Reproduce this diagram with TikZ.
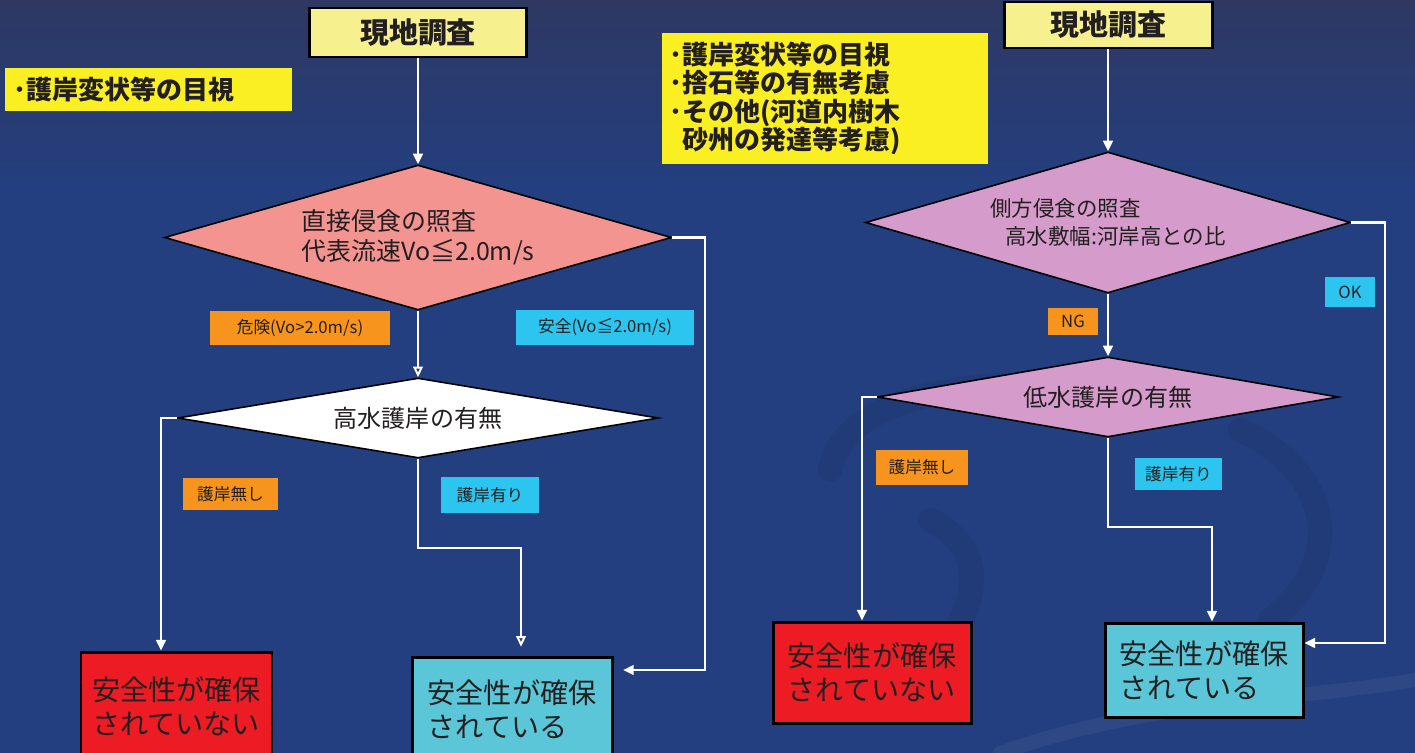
\documentclass[tikz,border=0pt]{standalone}
\usepackage{fontspec}
\setmainfont{Noto Sans CJK JP}
\usetikzlibrary{shapes.geometric,arrows.meta}
\definecolor{bgA}{HTML}{2E3862}
\definecolor{bgB}{HTML}{233F80}
\definecolor{topyellow}{HTML}{F6F08E}
\definecolor{noteyellow}{HTML}{FAEF22}
\definecolor{pinkd}{HTML}{F39491}
\definecolor{purpled}{HTML}{D59BCB}
\definecolor{orangel}{HTML}{F7941D}
\definecolor{cyanl}{HTML}{2BC5EF}
\definecolor{redr}{HTML}{ED1C24}
\definecolor{tealr}{HTML}{5BC6D7}
\definecolor{txt}{HTML}{231F20}
\def\pxu{0.02cm}
\tikzset{
  topbox/.style={draw=black, line width=1.7pt, fill=topyellow, inner sep=0pt, text=txt,
    font=\fontsize{16.5}{20}\selectfont\bfseries},
  note/.style={fill=noteyellow, inner sep=0pt, text=txt, align=left,
    font=\fontsize{14.8}{16.2}\selectfont\bfseries},
  dia/.style={shape=diamond, draw=black, line width=0.9pt, inner sep=0pt, text=txt},
  lab/.style={inner sep=0pt, text=txt, font=\fontsize{9.5}{11}\selectfont},
  res/.style={draw=black, line width=1.7pt, inner sep=0pt, align=left, text=txt,
    font=\fontsize{16}{19.3}\selectfont},
  conn/.style={draw=white, line width=1.4pt, -{Triangle[length=6pt,width=5.5pt]}},
  connopen/.style={draw=white, line width=1.1pt, -{Triangle[open,length=6pt,width=5.5pt]}},
  swirl/.style={line cap=round, line width=14pt}
}
\begin{document}
\begin{tikzpicture}[x=\pxu, y=-\pxu]
\useasboundingbox (0,0) rectangle (1415,753);
\clip (0,0) rectangle (1415,753);
% background
\fill[bgB] (0,0) rectangle (1415,753);
\shade[top color=bgA, bottom color=bgB] (0,0) rectangle (1415,190);
% swirl decoration (faint)
\draw[swirl, black, opacity=0.06] (830,470) .. controls (840,420) and (900,390) .. (1010,385);
\draw[swirl, black, opacity=0.06] (905,700) .. controls (960,640) and (1010,560) .. (930,520);
\draw[swirl, white, opacity=0.05, line width=8pt] (1000,753) .. controls (1150,700) and (1300,700) .. (1415,680);
\draw[swirl, black, opacity=0.05] (1240,430) .. controls (1330,470) and (1350,560) .. (1270,620);

% notes
\node[note, minimum width=287*\pxu, minimum height=43*\pxu, text width=270*\pxu] (lnote) at (148.5,89.5) {･護岸変状等の目視};
\node[note, minimum width=326*\pxu, minimum height=131*\pxu, text width=312*\pxu] (mnote) at (825,98.5)
  {･護岸変状等の目視\\･捨石等の有無考慮\\･その他(河道内樹木\\\hspace*{0.5em}砂州の発達等考慮)};

% left flow
\node[topbox, minimum width=217*\pxu, minimum height=49*\pxu] (lbox) at (418,32.5) {現地調査};
\node[dia, fill=pinkd, aspect=3.4, minimum width=507*\pxu, minimum height=145*\pxu, align=left,
  font=\fontsize{14.2}{17}\selectfont] (ld1) at (418,237.5) {直接侵食の照査\\代表流速Vo≦2.0m/s};
\node[dia, fill=white, aspect=6, minimum width=481*\pxu, minimum height=80*\pxu,
  font=\fontsize{13.7}{16}\selectfont] (ld2) at (418,418) {高水護岸の有無\hspace{37pt}};
\node[res, fill=redr, minimum width=191*\pxu, minimum height=108*\pxu] (lred) at (176.5,706) {安全性が確保\\されていない};
\node[res, fill=tealr, minimum width=200*\pxu, minimum height=104*\pxu] (lcyan) at (512,709) {安全性が確保\\されている};

\node[lab, fill=orangel, minimum width=180*\pxu, minimum height=34*\pxu] (lab1) at (300,328) {危険(Vo>2.0m/s)};
\node[lab, fill=cyanl, minimum width=178*\pxu, minimum height=35*\pxu] (lab2) at (605,327.5) {安全(Vo≦2.0m/s)};
\node[lab, fill=orangel, minimum width=95*\pxu, minimum height=32*\pxu] (lab3) at (230.5,494) {護岸無し};
\node[lab, fill=cyanl, minimum width=98*\pxu, minimum height=36*\pxu] (lab4) at (490,495) {護岸有り};

\coordinate (lrail) at (705,0);
\coordinate (lsafe) at (612,670);
\coordinate (lno) at (161,0);
\coordinate (lyes) at (521,548);

\draw[conn] (lbox.south) -- (ld1.north);
\draw[connopen] (ld1.south) -- (ld2.north);
\draw[conn, shorten >=5.5pt] (ld1.east) -| (lrail |- lsafe) -- (lcyan.east |- lsafe);
\draw[conn] (ld2.west) -| (lno |- lred.north);
\draw[connopen, shorten >=5pt] (ld2.south) |- (lyes) -- (lyes |- lcyan.north);

% right flow
\node[topbox, minimum width=208*\pxu, minimum height=46*\pxu] (rbox) at (1108,25) {現地調査};
\node[dia, fill=purpled, aspect=3.4, minimum width=485*\pxu, minimum height=141*\pxu, align=left,
  font=\fontsize{12.2}{16}\selectfont] (rd1) at (1108,222.5) {側方侵食の照査\\\hspace*{0.7em}高水敷幅:河岸高との比};
\node[dia, fill=purpled, aspect=6, minimum width=461*\pxu, minimum height=80*\pxu,
  font=\fontsize{13.7}{16}\selectfont] (rd2) at (1108,397) {低水護岸の有無\hspace{20pt}};
\node[res, fill=redr, minimum width=198*\pxu, minimum height=101*\pxu] (rred) at (872,672.5) {安全性が確保\\されていない};
\node[res, fill=tealr, minimum width=198*\pxu, minimum height=94*\pxu] (rcyan) at (1204,670) {安全性が確保\\されている};

\node[lab, fill=orangel, minimum width=50*\pxu, minimum height=27*\pxu] (lab5) at (1073,321.5) {NG};
\node[lab, fill=cyanl, minimum width=50*\pxu, minimum height=30*\pxu] (lab6) at (1350,292) {OK};
\node[lab, fill=orangel, minimum width=92*\pxu, minimum height=35*\pxu] (lab7) at (922,467.5) {護岸無し};
\node[lab, fill=cyanl, minimum width=87*\pxu, minimum height=32*\pxu] (lab8) at (1178.5,474) {護岸有り};

\coordinate (rrail) at (1385,0);
\coordinate (rsafe) at (1303,643);
\coordinate (rno) at (862,0);
\coordinate (ryes) at (1212,527);

\draw[conn] (rbox.south) -- (rd1.north);
\draw[conn] (rd1.south) -- (rd2.north);
\draw[conn] (rd1.east) -| (rrail |- rsafe) -- (rcyan.east |- rsafe);
\draw[conn] (rd2.west) -| (rno |- rred.north);
\draw[conn] (rd2.south) |- (ryes) -- (ryes |- rcyan.north);
\end{tikzpicture}
\end{document}
